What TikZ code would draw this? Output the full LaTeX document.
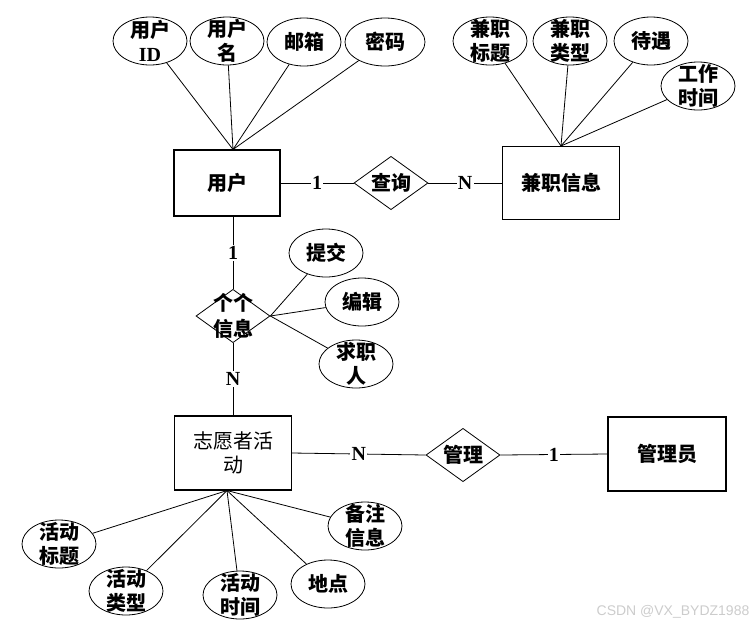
\documentclass[tikz,border=0pt]{standalone}
\usepackage{fontspec}
\setmainfont{Liberation Serif}
\newfontfamily\cjk{Noto Sans CJK SC}
\newfontfamily\marksf{Liberation Sans}
\usetikzlibrary{shapes.geometric}

\begin{document}
\begin{tikzpicture}[x=0.75pt,y=-0.75pt,
        attr/.style={draw, ellipse, line width=0.6pt, minimum width=55.5pt, minimum height=36pt, inner sep=0pt},
        entity/.style={draw, line width=0.8pt, minimum width=87.75pt, minimum height=55.5pt, align=center,
            font=\cjk\bfseries\fontsize{15}{18}\selectfont},
        rel/.style={draw, diamond, line width=0.6pt, minimum width=55.5pt, minimum height=40pt, inner sep=0pt},
        card/.style={fill=white, inner sep=1pt, font=\bfseries\fontsize{15}{17}\selectfont},
        every label/.style={align=center, inner sep=0pt, font=\cjk\bfseries\fontsize{15}{18}\selectfont}]
        \useasboundingbox (0,0) rectangle (753,626);

        % entities
        \node[entity, minimum width=79.5pt, minimum height=49.5pt] (user) at (227,183) {用户};
        \node[entity, minimum height=54.75pt] (job) at (561,183) {兼职信息};
        \node[entity, font=\cjk\fontsize{15}{18}\selectfont] (activity) at (233,453) {志愿者活\\动};
        \node[entity, minimum width=88.5pt] (admin) at (667,454) {管理员};

        % relations
        \node[rel, label=center:查询] (query) at (391,183) {};
        \node[rel, label=center:{个个\\[2pt]信息}] (info) at (233,316) {};
        \node[rel, label=center:管理] (manage) at (463,455) {};

        % attributes of user
        \node[attr, label=center:{用户\\{\rmfamily ID}}] (uid) at (150,41) {};
        \node[attr, label=center:{用户\\名}] (uname) at (227,41) {};
        \node[attr, label=center:邮箱] (mail) at (304,42) {};
        \node[attr, minimum width=60pt, label=center:密码] (pwd) at (385,42) {};

        % attributes of job
        \node[attr, label=center:{兼职\\标题}] (jtitle) at (490,41) {};
        \node[attr, label=center:{兼职\\类型}] (jtype) at (570,41) {};
        \node[attr, label=center:待遇] (pay) at (651,41) {};
        \node[attr, label=center:{工作\\时间}] (jtime) at (698,86) {};

        % attributes of info
        \node[attr, label=center:提交] (submit) at (326,253) {};
        \node[attr, label=center:编辑] (edit) at (362,302) {};
        \node[attr, label=center:{求职\\人}] (seeker) at (356,364) {};

        % attributes of activity
        \node[attr, label=center:{活动\\标题}] (atitle) at (59,544) {};
        \node[attr, label=center:{活动\\类型}] (atype) at (126,591) {};
        \node[attr, label=center:{活动\\时间}] (atime) at (240,595) {};
        \node[attr, label=center:地点] (place) at (328,584) {};
        \node[attr, label=center:{备注\\信息}] (note) at (365,526) {};

        \foreach \a in {uid,uname,mail,pwd}
            \draw[line width=0.6pt] ([xshift=4.5pt]user.north) -- (\a);
        \foreach \a in {jtitle,jtype,pay,jtime}
            \draw[line width=0.6pt] (job.north) -- (\a);
        \foreach \a in {submit,edit,seeker}
            \draw[line width=0.6pt] (info.east) -- (\a);
        \foreach \a in {atitle,atype,atime,place,note}
            \draw[line width=0.6pt] ([xshift=-4.5pt]activity.south) -- (\a);

        % cardinalities
        \draw[line width=0.6pt] (user.east) -- node[card]{1} (query.west);
        \draw[line width=0.6pt] (query.east) -- node[card]{N} (job.west);
        \draw[line width=0.6pt] ([xshift=4.5pt]user.south) -- node[card]{1} (info.north);
        \draw[line width=0.6pt] (info.south) -- node[card]{N} (activity.north);
        \draw[line width=0.6pt] (activity.east) -- node[card]{N} (manage.west);
        \draw[line width=0.6pt] (manage.east) -- node[card]{1} (admin.west);

        \node[text=gray!40, font=\marksf\fontsize{10.5}{12}\selectfont] (mark) at (673,612) {CSDN @VX\_BYDZ1988};
\end{tikzpicture}
\end{document}
